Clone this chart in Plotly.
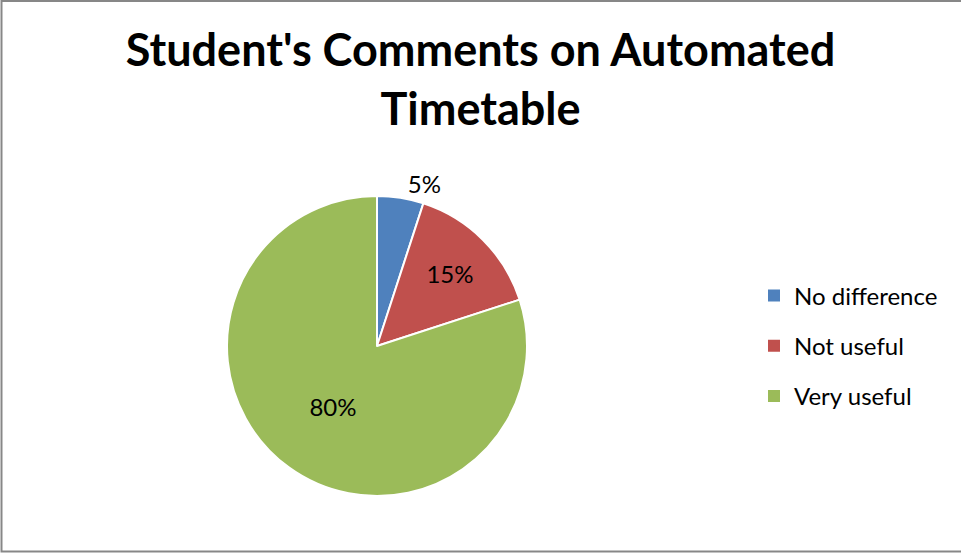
import plotly.graph_objects as go

labels = ["No difference", "Not useful", "Very useful"]
values = [5, 15, 80]
colors = ["#4F81BD", "#C0504D", "#9BBB59"]
text_positions = ["outside", "inside", "inside"]
title_text = "Student's Comments on Automated<br>Timetable"

W, H = 961, 554
FONT = "Lato, 'Open Sans', sans-serif"

fig = go.Figure()
fig.add_trace(go.Pie(
    labels=labels, values=values, sort=False, direction="clockwise", rotation=0,
    marker=dict(colors=colors, line=dict(color="white", width=2)),
    texttemplate="%{percent:.0%}", textposition=text_positions,
    textfont=dict(size=24, color="black", family=FONT),
    insidetextorientation="horizontal",
    domain=dict(x=[227 / W, 527 / W], y=[1 - 496 / H, 1 - 196 / H]),
    showlegend=False, hoverinfo="label+percent",
))
for lab, col in zip(labels, colors):
    fig.add_trace(go.Scatter(
        x=[None], y=[None], mode="markers", name=lab, legendgroup=lab,
        marker=dict(symbol="square", size=11, color=col),
    ))

fig.update_layout(
    width=W, height=H, margin=dict(l=0, r=0, t=0, b=0),
    paper_bgcolor="white", plot_bgcolor="white",
    title=dict(text=title_text, x=0.5, xanchor="center", y=1 - 66 / H, yanchor="top",
               font=dict(size=45, family=FONT, color="black")),
    xaxis=dict(visible=False), yaxis=dict(visible=False),
    legend=dict(x=754 / W, xanchor="left", y=1 - 346 / H, yanchor="middle",
                font=dict(size=24, family=FONT, color="black"),
                tracegroupgap=16, itemsizing="constant", bgcolor="rgba(0,0,0,0)"),
    shapes=[dict(type="rect", xref="paper", yref="paper",
                 x0=1.5 / W, x1=1.02, y0=1 - 551.5 / H, y1=1 - 1 / H,
                 line=dict(color="#878787", width=2), fillcolor="rgba(0,0,0,0)", layer="below")],
)
fig.update_layout(title_font_weight="bold")
fig.write_html("out.html")
